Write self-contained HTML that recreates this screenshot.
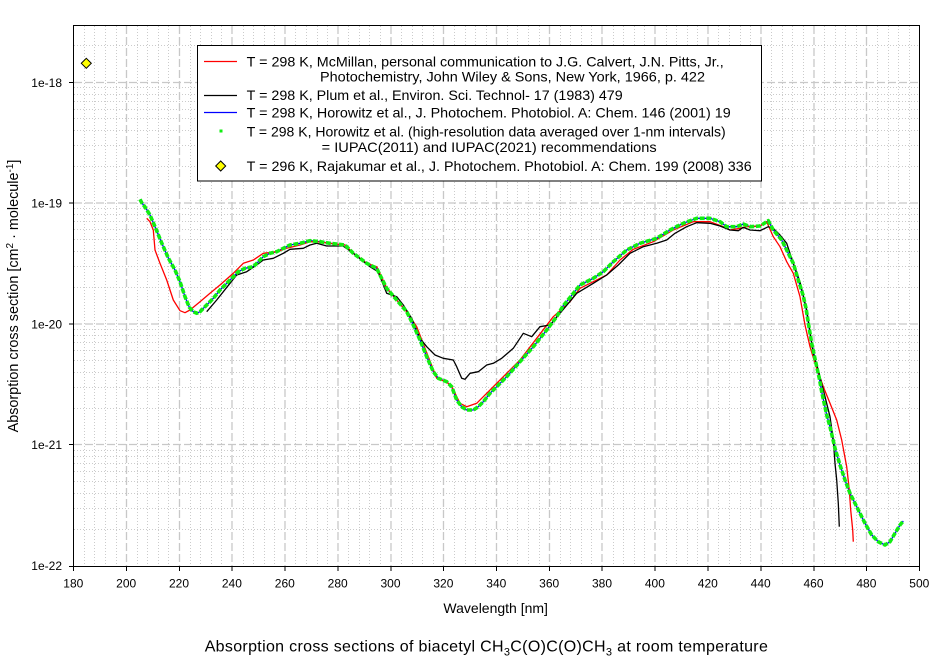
<!DOCTYPE html>
<html><head><meta charset="utf-8"><style>
html,body{margin:0;padding:0;background:#fff;}
svg{display:block;font-family:"Liberation Sans",Arial,sans-serif;}
</style></head><body>
<svg width="944" height="665" viewBox="0 0 944 665" xmlns="http://www.w3.org/2000/svg">
<rect x="0" y="0" width="944" height="665" fill="#fff"/>
<!-- minor vertical grid -->
<g stroke="#cbcbcb" stroke-width="1" stroke-dasharray="1,2">
<path d="M84.5 26V566M94.5 26V566M105.5 26V566M116.5 26V566M137.5 26V566M147.5 26V566M158.5 26V566M168.5 26V566M190.5 26V566M200.5 26V566M211.5 26V566M221.5 26V566M243.5 26V566M253.5 26V566M264.5 26V566M274.5 26V566M295.5 26V566M306.5 26V566M317.5 26V566M327.5 26V566M348.5 26V566M359.5 26V566M369.5 26V566M380.5 26V566M401.5 26V566M412.5 26V566M422.5 26V566M433.5 26V566M454.5 26V566M465.5 26V566M475.5 26V566M486.5 26V566M507.5 26V566M517.5 26V566M528.5 26V566M539.5 26V566M560.5 26V566M570.5 26V566M581.5 26V566M591.5 26V566M613.5 26V566M623.5 26V566M634.5 26V566M644.5 26V566M666.5 26V566M676.5 26V566M687.5 26V566M697.5 26V566M718.5 26V566M729.5 26V566M740.5 26V566M750.5 26V566M771.5 26V566M782.5 26V566M792.5 26V566M803.5 26V566M824.5 26V566M835.5 26V566M845.5 26V566M856.5 26V566M877.5 26V566M888.5 26V566M898.5 26V566M909.5 26V566"/>
<!-- minor horizontal grid -->
<path d="M74 529.5H919M74 508.5H919M74 493.5H919M74 481.5H919M74 471.5H919M74 463.5H919M74 456.5H919M74 450.5H919M74 408.5H919M74 387.5H919M74 372.5H919M74 360.5H919M74 350.5H919M74 342.5H919M74 335.5H919M74 329.5H919M74 287.5H919M74 266.5H919M74 251.5H919M74 239.5H919M74 229.5H919M74 221.5H919M74 214.5H919M74 208.5H919M74 166.5H919M74 145.5H919M74 130.5H919M74 118.5H919M74 109.5H919M74 101.5H919M74 94.5H919M74 87.5H919M74 45.5H919"/>
</g>
<!-- major grid -->
<g stroke="#c8c8c8" stroke-width="1.3" stroke-dasharray="8,3">
<path d="M126.5 26V566M179.5 26V566M232 26V566M285 26V566M338 26V566M391 26V566M443.5 26V566M496.5 26V566M549.5 26V566M602 26V566M655 26V566M708 26V566M761 26V566M814 26V566M866.5 26V566"/>
<path d="M74 82.5H919M74 203H919M74 324H919M74 444.5H919"/>
</g>
<!-- frame -->
<rect x="73.5" y="25.5" width="846" height="541" fill="none" stroke="#000" stroke-width="1"/>
<!-- ticks -->
<g stroke="#000" stroke-width="1">
<path d="M69 82.5H73.5M69 203H73.5M69 324H73.5M69 444.5H73.5M69 566.5H73.5"/>
<path d="M73.5 566V571M126.5 566V571M179.5 566V571M232 566V571M285 566V571M338 566V571M391 566V571M443.5 566V571M496.5 566V571M549.5 566V571M602 566V571M655 566V571M708 566V571M761 566V571M814 566V571M866.5 566V571M919.5 566V571"/>
</g>
<!-- y tick labels -->
<g font-size="12" text-anchor="end" fill="#000">
<text x="62" y="87">1e-18</text>
<text x="62" y="207.5">1e-19</text>
<text x="62" y="328.5">1e-20</text>
<text x="62" y="449">1e-21</text>
<text x="62" y="570">1e-22</text>
</g>
<!-- x tick labels -->
<g font-size="12" text-anchor="middle" fill="#000">
<text x="73.3" y="587.5">180</text>
<text x="126.2" y="587.5">200</text>
<text x="179" y="587.5">220</text>
<text x="231.9" y="587.5">240</text>
<text x="284.8" y="587.5">260</text>
<text x="337.7" y="587.5">280</text>
<text x="390.5" y="587.5">300</text>
<text x="443.4" y="587.5">320</text>
<text x="496.3" y="587.5">340</text>
<text x="549.2" y="587.5">360</text>
<text x="602" y="587.5">380</text>
<text x="654.9" y="587.5">400</text>
<text x="707.8" y="587.5">420</text>
<text x="760.7" y="587.5">440</text>
<text x="813.5" y="587.5">460</text>
<text x="866.4" y="587.5">480</text>
<text x="919.3" y="587.5">500</text>
</g>
<!-- series -->
<g fill="none" stroke-linejoin="round">
<polyline stroke="#0000ff" stroke-width="1.3" points="140,199.3 141.7,202.7 145,207 150,215 155,226.7 161.7,243 168.3,258 175,270 180,281.7 185,296.7 189.3,307.3 193.3,311.7 196.7,313.3 200,311.7 205,306.7 213.3,298.3 220,290 226.7,283.3 233.3,276.7 238.3,271.7 245,268.3 253.3,266.7 258.3,261.7 263.3,256.7 270,253.3 276.7,251.7 283.3,248.3 290,245 300,243.3 310,240.7 320,241.7 330,243.3 345,245 353.3,253.3 366.7,263.3 376.7,268.3 380,275 386.7,288.3 396.7,300 406.7,311.7 413.3,325 420,340 426.7,356.7 433.3,371.7 438.3,378.3 446.7,381.7 451.7,386.7 456.7,400 461.7,406.7 466.7,410 473.3,410 478.3,406.7 483.3,401.7 490,393.3 496.7,386.7 506.7,376.7 520,361.7 533.3,346.7 546.7,330 556.7,316.7 563,306 570,297.5 580,285 593.3,278.3 603.3,271.7 613.3,261.7 626.7,250 640,243.3 656.7,238.3 670,230 683.3,223.3 696.7,218.3 710,218.3 720,221.7 726.7,226.7 736.7,226.7 743.3,224 750,226.7 760,226 768.3,220.7 773.3,230 781.7,240 788.3,253.3 793.3,263.3 798.3,280 803,295 806,308 809,327 811.7,343.3 816.7,366.7 819.3,378.3 821.7,391.7 826.7,415 830,426.7 835,448.3 840,465 845,480 850,493.3 855,503.3 860,513.3 865,523.3 871.7,535 878.3,541.7 885,545 890,541.7 895,533.3 900,525 903.3,521"/>
<polyline stroke="#ff0000" stroke-width="1.3" points="146.7,218.3 150,221.7 153.3,230 155,250 160,263.3 166.7,280 173.3,300 180,310.7 185,312.7 190,310 200,301.7 210,293.3 220,285 233.3,273.3 243.3,263.3 253.3,260 263.3,253.3 276.7,251.7 286.7,248.3 300,245 310,241.7 320,242 330,243.3 345,245 353.3,253.3 366.7,263.3 376.7,266.7 386.7,288 396.7,300 406.7,311.7 416.7,326.7 428.3,356.7 436.7,378.3 446.7,382 452,387 460,403.3 466.7,406.7 476.7,403.3 493.3,386.7 520,360 553.3,316.7 570,301.7 580,288.3 593.3,281.7 606.7,275 620,260 633.3,249.3 653.3,241.7 673.3,230 693.3,221.7 710,221.7 723.3,226.7 730,230 740,228.3 746.7,226.7 760,226 766.7,221.7 773.3,236.7 780,246.7 786.7,261.7 793.3,273.3 800,296.7 805,325 810,346.7 815,363.3 823.3,386.7 830,403.3 836.7,420 841.7,440 846.7,466.7 849.3,490 850.7,510 852.7,530 853.3,541.7"/>
<polyline stroke="#000000" stroke-width="1.3" points="206.7,311.7 216.7,300 230,283.3 236.7,275 246.7,271.7 256.7,265 263.3,260 273.3,258.3 283.3,253.3 290,249.3 303.3,248.3 310,245 316.7,243.3 326.7,246 343,246 353,253 370,266.7 378,271.7 386.7,293.3 396.7,296.7 403.3,305 411.7,318.3 420,338.3 426.7,346.7 435,355 443.3,358.3 453.3,360 456.7,366.7 461.7,378.3 465,379.3 470,373.3 478.3,371.7 486.7,365 493.3,363.3 501.7,358.3 513.3,348.3 523.3,333.3 531.7,336.7 540,326.7 550,325 560,313.3 576.7,293.3 593.3,283.3 606.7,275 618.3,265 630,253.3 643.3,246.7 656.7,243.3 666.7,240 675,233.3 686.7,226.7 696.7,222.7 710,223.3 720,226 730,230 738.3,230.7 743.3,227.3 750,230 760,230.7 768.3,226.7 773.3,228.3 780,235 786.7,243.3 793.3,263.3 800,282 806.7,310 813.3,353.3 818.3,370 825,396.7 830,416.7 833.3,440 835,463.3 836.7,480 838.3,503.3 839.3,526.7"/>
<polyline stroke="#11ee11" stroke-width="3.6" stroke-dasharray="5,1.6" points="140,199.3 141.7,202.7 145,207 150,215 155,226.7 161.7,243 168.3,258 175,270 180,281.7 185,296.7 189.3,307.3 193.3,311.7 196.7,313.3 200,311.7 205,306.7 213.3,298.3 220,290 226.7,283.3 233.3,276.7 238.3,271.7 245,268.3 253.3,266.7 258.3,261.7 263.3,256.7 270,253.3 276.7,251.7 283.3,248.3 290,245 300,243.3 310,240.7 320,241.7 330,243.3 345,245 353.3,253.3 366.7,263.3 376.7,268.3 380,275 386.7,288.3 396.7,300 406.7,311.7 413.3,325 420,340 426.7,356.7 433.3,371.7 438.3,378.3 446.7,381.7 451.7,386.7 456.7,400 461.7,406.7 466.7,410 473.3,410 478.3,406.7 483.3,401.7 490,393.3 496.7,386.7 506.7,376.7 520,361.7 533.3,346.7 546.7,330 556.7,316.7 563,306 570,297.5 580,285 593.3,278.3 603.3,271.7 613.3,261.7 626.7,250 640,243.3 656.7,238.3 670,230 683.3,223.3 696.7,218.3 710,218.3 720,221.7 726.7,226.7 736.7,226.7 743.3,224 750,226.7 760,226 768.3,220.7 773.3,230 781.7,240 788.3,253.3 793.3,263.3 798.3,280 803,295 806,308 809,327 811.7,343.3 816.7,366.7 819.3,378.3 821.7,391.7 826.7,415 830,426.7 835,448.3 840,465 845,480 850,493.3 855,503.3 860,513.3 865,523.3 871.7,535 878.3,541.7 885,545 890,541.7 895,533.3 900,525 903.3,521"/>
</g>
<!-- Rajakumar point -->
<polygon points="86.3,58.3 91.3,63.3 86.3,68.3 81.3,63.3" fill="#ffff00" stroke="#000" stroke-width="1"/>
<!-- legend -->
<rect x="197.5" y="45.5" width="564" height="135.5" fill="#fff" stroke="#000" stroke-width="1"/>
<line x1="204" y1="61.5" x2="237" y2="61.5" stroke="#ff0000" stroke-width="1.2"/>
<line x1="204" y1="95.5" x2="237" y2="95.5" stroke="#000" stroke-width="1.2"/>
<line x1="204" y1="112.5" x2="237" y2="112.5" stroke="#0000ff" stroke-width="1.2"/>
<rect x="219.5" y="129.5" width="3" height="3" fill="#11ee11"/>
<polygon points="220.7,161 225.7,166 220.7,171 215.7,166" fill="#ffff00" stroke="#000" stroke-width="1"/>
<g font-size="14" fill="#000">
<text x="246.7" y="66.5" textLength="477" lengthAdjust="spacingAndGlyphs">T = 298 K, McMillan, personal communication to J.G. Calvert, J.N. Pitts, Jr.,</text>
<text x="320" y="81.5" textLength="385" lengthAdjust="spacingAndGlyphs">Photochemistry, John Wiley &amp; Sons, New York, 1966, p. 422</text>
<text x="246.7" y="100" textLength="376" lengthAdjust="spacingAndGlyphs">T = 298 K, Plum et al., Environ. Sci. Technol- 17 (1983) 479</text>
<text x="246.7" y="117.7" textLength="484" lengthAdjust="spacingAndGlyphs">T = 298 K, Horowitz et al., J. Photochem. Photobiol. A: Chem. 146 (2001) 19</text>
<text x="246.7" y="136.5" textLength="479" lengthAdjust="spacingAndGlyphs">T = 298 K, Horowitz et al. (high-resolution data averaged over 1-nm intervals)</text>
<text x="321.7" y="152" textLength="335" lengthAdjust="spacingAndGlyphs">= IUPAC(2011) and IUPAC(2021) recommendations</text>
<text x="246.7" y="171" textLength="505" lengthAdjust="spacingAndGlyphs">T = 296 K, Rajakumar et al., J. Photochem. Photobiol. A: Chem. 199 (2008) 336</text>
</g>
<!-- axis titles -->
<text x="495.7" y="613" font-size="14" text-anchor="middle" fill="#000">Wavelength [nm]</text>
<text transform="translate(18,296) rotate(-90)" font-size="14.4" text-anchor="middle" fill="#000">Absorption cross section [cm<tspan font-size="10" dy="-5">2</tspan><tspan dy="5"> · molecule</tspan><tspan font-size="10" dy="-5">-1</tspan><tspan dy="5">]</tspan></text>
<!-- chart title -->
<text x="204.7" y="651.5" font-size="16" letter-spacing="0.32" fill="#000">Absorption cross sections of biacetyl CH<tspan font-size="11" dy="4">3</tspan><tspan dy="-4">C(O)C(O)CH</tspan><tspan font-size="11" dy="4">3</tspan><tspan dy="-4"> at room temperature</tspan></text>
</svg>
</body></html>
